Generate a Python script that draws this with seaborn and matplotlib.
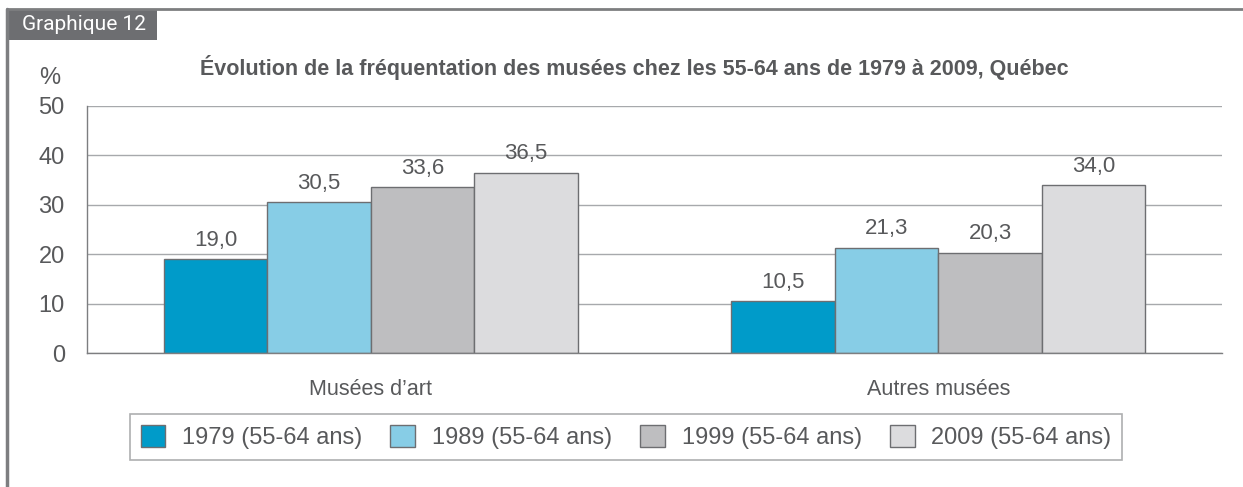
import pandas as pd
import matplotlib.pyplot as plt
import seaborn as sns
from matplotlib.patches import Rectangle
from matplotlib.lines import Line2D

# Data
categories = ["Musées d’art", "Autres musées"]
years = ["1979 (55-64 ans)", "1989 (55-64 ans)", "1999 (55-64 ans)", "2009 (55-64 ans)"]
values_1979 = [19.0, 10.5]
values_1989 = [30.5, 21.3]
values_1999 = [33.6, 20.3]
values_2009 = [36.5, 34.0]
colors = ["#009bc9", "#87cde6", "#bebec0", "#dcdcde"]

rows = []
for year, vals in zip(years, [values_1979, values_1989, values_1999, values_2009]):
    for cat, v in zip(categories, vals):
        rows.append({"Catégorie": cat, "Année": year, "Valeur": v})
df = pd.DataFrame(rows)

sns.set_style("white")
plt.rcParams['font.family'] = ['Liberation Sans', 'DejaVu Sans']
text_col = "#58595b"
line_col = "#7d7e80"

fig = plt.figure(figsize=(12.43, 4.87), dpi=100)
ax = fig.add_axes([87 / 1243, 1 - 353 / 487, (1222 - 87) / 1243, (353 - 106) / 487])

sns.barplot(data=df, x="Catégorie", y="Valeur", hue="Année", palette=colors, saturation=1,
            width=0.73, gap=0, edgecolor="#6d6e71", linewidth=1, ax=ax, legend=False)

# value labels with decimal comma
for cont in ax.containers:
    ax.bar_label(cont, labels=[f"{b.get_height():.1f}".replace(".", ",") for b in cont],
                 padding=6, fontsize=16, color=text_col)

ax.set_ylim(0, 50)
ax.set_xlim(-0.5, 1.5)
ax.set_yticks(range(0, 51, 10))
ax.yaxis.grid(True, color="#a7a9ac", linewidth=1)
ax.set_axisbelow(True)
for s in ["top", "right"]:
    ax.spines[s].set_visible(False)
for s in ["left", "bottom"]:
    ax.spines[s].set_color(line_col)
    ax.spines[s].set_linewidth(1)
ax.tick_params(axis="y", length=10, width=1, color=line_col, labelsize=17, labelcolor=text_col, pad=6)
ax.set_xticks([-0.5, 0.5, 1.5], minor=True)
ax.tick_params(axis="x", which="minor", length=11, width=1, color="#b0b0b2")
ax.tick_params(axis="x", which="major", length=0, labelsize=15.5, labelcolor=text_col, pad=19)
ax.set_xlabel("")
ax.set_ylabel("")

fig.text(50 / 1243, 1 - 78 / 487, "%", fontsize=17, color=text_col, ha="center", va="center")
fig.text(634 / 1243, 1 - 67 / 487,
         "Évolution de la fréquentation des musées chez les 55-64 ans de 1979 à 2009, Québec",
         fontsize=15.5, fontweight="bold", color=text_col, ha="center", va="center")

# Frame and label box
fig.add_artist(Line2D([7 / 1243, 7 / 1243], [0, 1 - 9 / 487], transform=fig.transFigure,
                      color="#7d7e80", linewidth=2.5))
fig.add_artist(Line2D([7 / 1243, 1], [1 - 9 / 487, 1 - 9 / 487], transform=fig.transFigure,
                      color="#7d7e80", linewidth=2))
fig.add_artist(Rectangle((7 / 1243, 1 - 40 / 487), 150 / 1243, 31 / 487, transform=fig.transFigure,
                         facecolor="#6d6e71", edgecolor="none"))
fig.text(84 / 1243, 1 - 25 / 487, "Graphique 12", fontsize=15, color="white",
         ha="center", va="center", family=["Roboto", "DejaVu Sans"])

handles = [Rectangle((0, 0), 1, 1, facecolor=c, edgecolor="#6d6e71", linewidth=1) for c in colors]
leg = fig.legend(handles, years, loc="center", bbox_to_anchor=(626 / 1243, 1 - 437 / 487), ncol=4,
                 fontsize=17, frameon=True, fancybox=False, edgecolor="#9a9b9d",
                 handlelength=1.05, handleheight=1.05, handletextpad=0.7, columnspacing=1.2,
                 borderpad=0.45, labelcolor=text_col)
leg.get_frame().set_linewidth(1.2)

fig.savefig("out.png", dpi=100)
